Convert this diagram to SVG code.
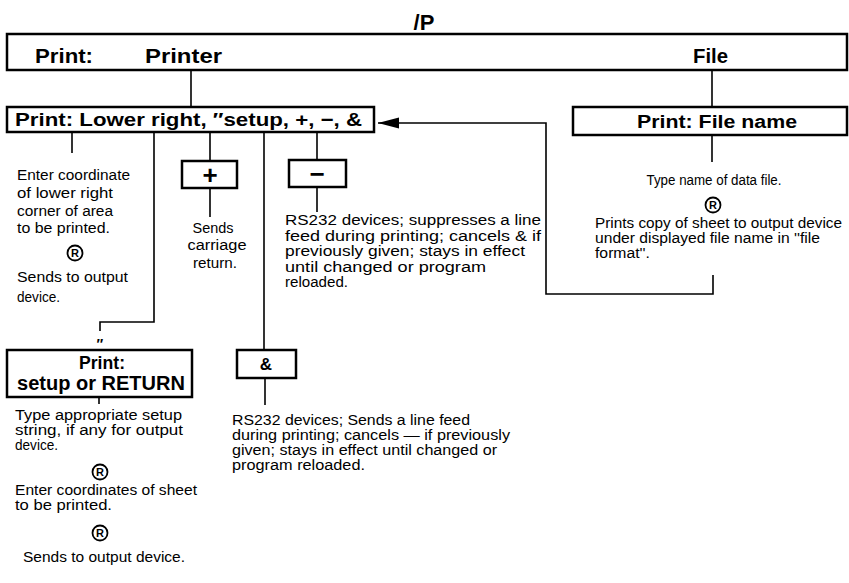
<svg xmlns="http://www.w3.org/2000/svg" width="849" height="583" viewBox="0 0 849 583">
<style>
  .box { fill: #fff; stroke: #000; stroke-width: 2.5; }
  .ln { fill: none; stroke: #000; stroke-width: 1.6; }
  .h { font-family: "Liberation Sans", Arial, sans-serif; font-weight: bold; fill: #000; }
  .t { font-family: "Liberation Sans", Arial, sans-serif; font-size: 14px; fill: #000; }
  .reg circle { fill: none; stroke: #000; stroke-width: 1.8; }
  .reg text { font-family: "Liberation Sans", Arial, sans-serif; font-weight: bold; font-size: 11px; text-anchor: middle; fill: #000; }
</style>
<defs>
  <marker id="arr" markerUnits="userSpaceOnUse" markerWidth="22" markerHeight="12" refX="21" refY="6" orient="auto">
    <path d="M0,0.5 L21,6 L0,11.5 Z" fill="#000"/>
  </marker>
</defs>
<rect width="849" height="583" fill="#fff"/>

<text class="h" x="424" y="30" font-size="22" text-anchor="middle">/P</text>

<g id="connectors">
  <path class="ln" d="M191,70 V107"/>
  <path class="ln" d="M712,70 V107"/>
  <path class="ln" d="M712,135 V162"/>
  <path class="ln" d="M72,132 V153"/>
  <path class="ln" d="M210,132 V161"/>
  <path class="ln" d="M210,188 V217"/>
  <path class="ln" d="M317,132 V160"/>
  <path class="ln" d="M317,187 V212"/>
  <path class="ln" d="M264,132 V350"/>
  <path class="ln" d="M265,378 V405"/>
  <path class="ln" d="M154,132 V322 H100 V331"/>
  <path class="ln" d="M99,397 V404"/>
  <path class="ln" d="M713,275 V294 H546 V123 H378" marker-end="url(#arr)"/>
</g>

<g id="top">
  <rect class="box" x="7" y="34" width="840" height="36"/>
  <text class="h" x="35" y="63" font-size="21" textLength="58" lengthAdjust="spacingAndGlyphs">Print:</text>
  <text class="h" x="145" y="63" font-size="21" textLength="77" lengthAdjust="spacingAndGlyphs">Printer</text>
  <text class="h" x="693" y="63" font-size="21" textLength="35" lengthAdjust="spacingAndGlyphs">File</text>
</g>

<g id="lowerright">
  <rect class="box" x="7" y="107" width="367" height="25"/>
  <text class="h" x="15" y="126" font-size="19" textLength="347" lengthAdjust="spacingAndGlyphs">Print: Lower right, ″setup, +, −, &amp;</text>
</g>

<g id="filename">
  <rect class="box" x="573" y="107" width="274" height="28"/>
  <text class="h" x="717" y="128" font-size="18" text-anchor="middle" textLength="160" lengthAdjust="spacingAndGlyphs">Print: File name</text>
</g>

<g id="filetext">
  <text class="t" x="714" y="185" text-anchor="middle" textLength="135" lengthAdjust="spacingAndGlyphs">Type name of data file.</text>
  <g class="reg"><circle cx="713" cy="205" r="7.5"/><text x="713" y="209">R</text></g>
  <text class="t" x="595" y="228" textLength="247" lengthAdjust="spacingAndGlyphs">Prints copy of sheet to output device</text>
  <text class="t" x="595" y="243" textLength="225" lengthAdjust="spacingAndGlyphs">under displayed file name in ''file</text>
  <text class="t" x="595" y="258" textLength="55" lengthAdjust="spacingAndGlyphs">format''.</text>
</g>

<g id="lefttext">
  <text class="t" x="17" y="180" textLength="113" lengthAdjust="spacingAndGlyphs">Enter coordinate</text>
  <text class="t" x="17" y="198" textLength="96" lengthAdjust="spacingAndGlyphs">of lower right</text>
  <text class="t" x="17" y="216" textLength="96" lengthAdjust="spacingAndGlyphs">corner of area</text>
  <text class="t" x="17" y="233" textLength="93" lengthAdjust="spacingAndGlyphs">to be printed.</text>
  <g class="reg"><circle cx="75" cy="253" r="7.5"/><text x="75" y="257">R</text></g>
  <text class="t" x="17" y="282" textLength="111" lengthAdjust="spacingAndGlyphs">Sends to output</text>
  <text class="t" x="17" y="302" textLength="43" lengthAdjust="spacingAndGlyphs">device.</text>
</g>

<g id="plus">
  <rect class="box" x="182" y="161" width="55" height="27"/>
  <text class="h" x="210" y="184" font-size="26" text-anchor="middle">+</text>
  <text class="t" x="213" y="233" text-anchor="middle" textLength="41" lengthAdjust="spacingAndGlyphs">Sends</text>
  <text class="t" x="217" y="250" text-anchor="middle" textLength="59" lengthAdjust="spacingAndGlyphs">carriage</text>
  <text class="t" x="215" y="268" text-anchor="middle" textLength="44" lengthAdjust="spacingAndGlyphs">return.</text>
</g>

<g id="minus">
  <rect class="box" x="289" y="160" width="57" height="27"/>
  <text class="h" x="317" y="183" font-size="26" text-anchor="middle">−</text>
  <text class="t" x="285" y="225" textLength="256" lengthAdjust="spacingAndGlyphs">RS232 devices; suppresses a line</text>
  <text class="t" x="285" y="240.5" textLength="256" lengthAdjust="spacingAndGlyphs">feed during printing; cancels &amp; if</text>
  <text class="t" x="285" y="256" textLength="240" lengthAdjust="spacingAndGlyphs">previously given; stays in effect</text>
  <text class="t" x="285" y="271.5" textLength="201" lengthAdjust="spacingAndGlyphs">until changed or program</text>
  <text class="t" x="285" y="287" textLength="63" lengthAdjust="spacingAndGlyphs">reloaded.</text>
</g>

<g id="amp">
  <rect class="box" x="237" y="350" width="59" height="28"/>
  <text class="h" x="266" y="370" font-size="17" text-anchor="middle">&amp;</text>
  <text class="t" x="232" y="425" textLength="238" lengthAdjust="spacingAndGlyphs">RS232 devices; Sends a line feed</text>
  <text class="t" x="232" y="440" textLength="278" lengthAdjust="spacingAndGlyphs">during printing; cancels — if previously</text>
  <text class="t" x="232" y="455" textLength="265" lengthAdjust="spacingAndGlyphs">given; stays in effect until changed or</text>
  <text class="t" x="232" y="470" textLength="133" lengthAdjust="spacingAndGlyphs">program reloaded.</text>
</g>

<g id="setup">
  <text class="h" x="99" y="349" font-size="14" text-anchor="middle" font-style="italic">″</text>
  <rect class="box" x="7" y="350" width="185" height="47"/>
  <text class="h" x="102" y="369" font-size="19" text-anchor="middle" textLength="46" lengthAdjust="spacingAndGlyphs">Print:</text>
  <text class="h" x="101" y="390" font-size="20" text-anchor="middle" textLength="168" lengthAdjust="spacingAndGlyphs">setup or RETURN</text>
  <text class="t" x="15" y="420" textLength="167" lengthAdjust="spacingAndGlyphs">Type appropriate setup</text>
  <text class="t" x="15" y="435" textLength="168" lengthAdjust="spacingAndGlyphs">string, if any for output</text>
  <text class="t" x="15" y="450" textLength="43" lengthAdjust="spacingAndGlyphs">device.</text>
  <g class="reg"><circle cx="100" cy="472" r="7.5"/><text x="100" y="476">R</text></g>
  <text class="t" x="15" y="495" textLength="182" lengthAdjust="spacingAndGlyphs">Enter coordinates of sheet</text>
  <text class="t" x="15" y="510" textLength="97" lengthAdjust="spacingAndGlyphs">to be printed.</text>
  <g class="reg"><circle cx="100" cy="533" r="7.5"/><text x="100" y="537">R</text></g>
  <text class="t" x="104" y="562" text-anchor="middle" textLength="162" lengthAdjust="spacingAndGlyphs">Sends to output device.</text>
</g>
</svg>
